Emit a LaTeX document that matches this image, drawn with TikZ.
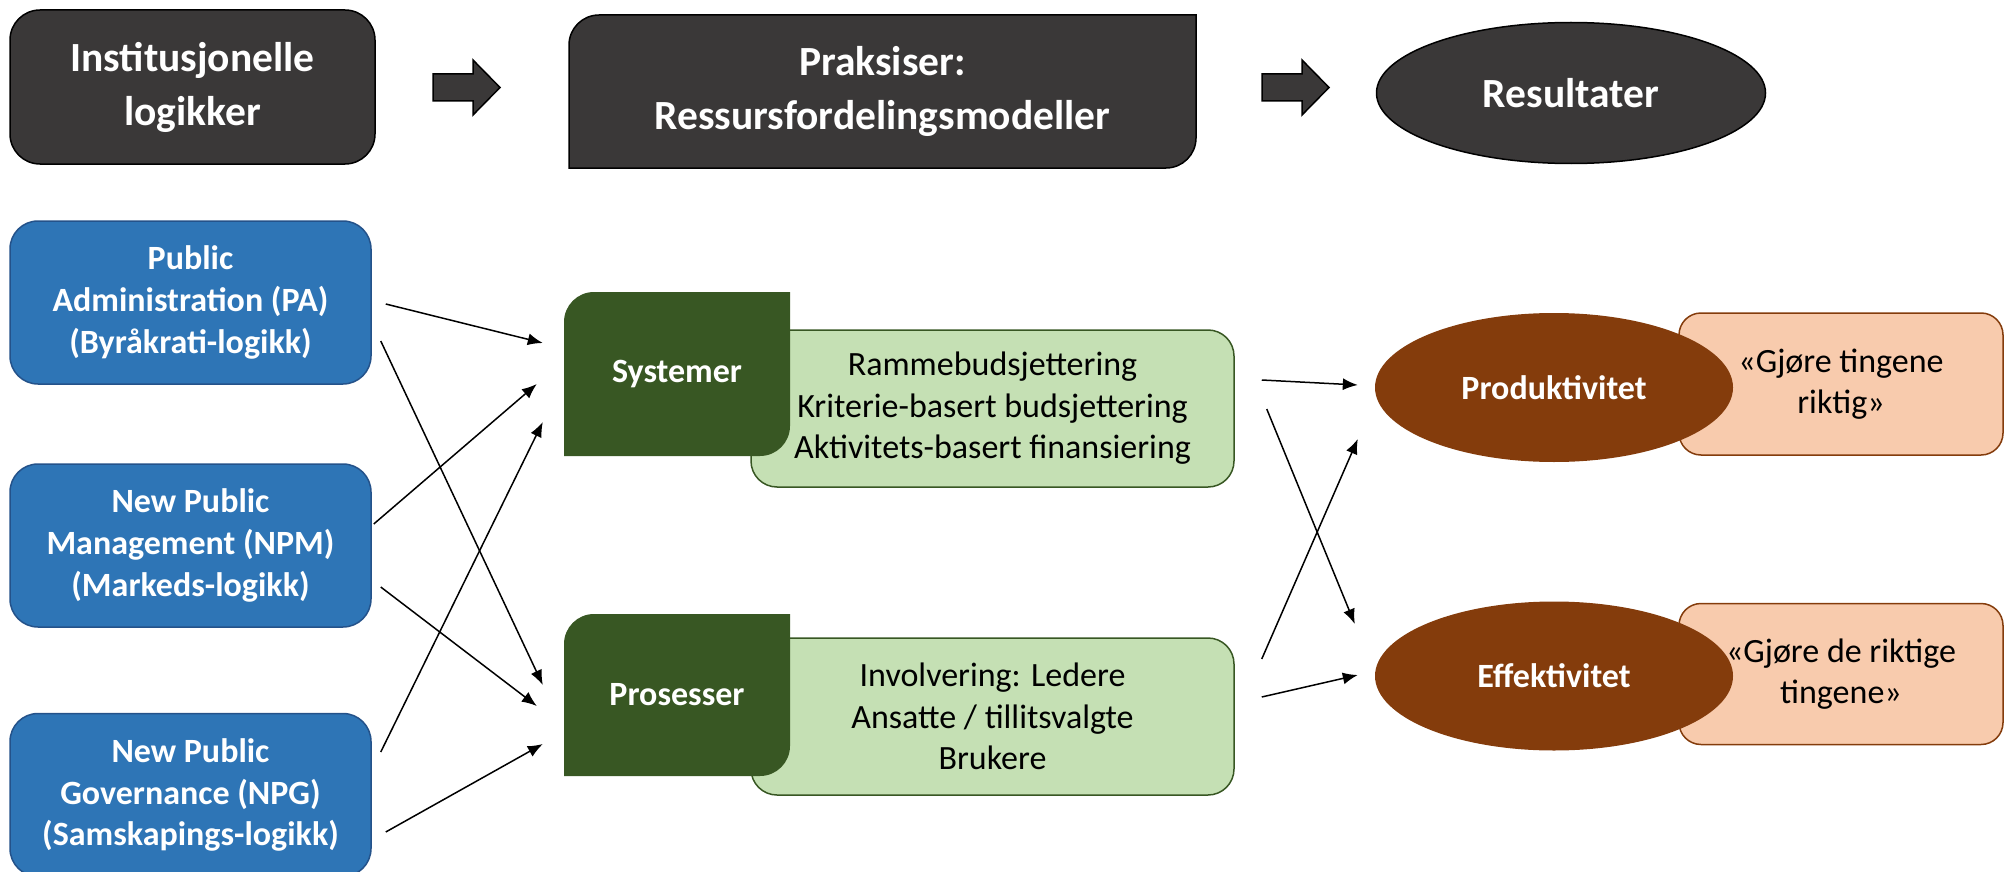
\documentclass[tikz,border=0pt]{standalone}
\usepackage{fontspec}
\setmainfont{Carlito}
\usetikzlibrary{arrows.meta,calc,shapes.geometric}

\definecolor{boxgray}{RGB}{58,56,56}
\definecolor{logicblue}{RGB}{46,117,182}
\definecolor{logicline}{RGB}{36,82,138}
\definecolor{sysgreen}{RGB}{56,87,35}
\definecolor{listgreen}{RGB}{197,224,180}
\definecolor{outbrown}{RGB}{132,60,12}
\definecolor{quotepeach}{RGB}{248,203,173}

\tikzset{
  head/.style={fill=boxgray, draw=black, line width=1.5pt, text=white, inner sep=0pt,
    align=center, font=\fontsize{41.5}{54}\selectfont\bfseries},
  logic/.style={fill=logicblue, draw=logicline, line width=1.5pt, rounded corners=28pt,
    text=white, inner sep=0pt, align=center, minimum width=361pt, minimum height=163pt,
    font=\fontsize{34}{41.6}\selectfont\bfseries},
  practice/.style={fill=sysgreen, text=white, inner sep=0pt,
    font=\fontsize{34}{41.6}\selectfont\bfseries},
  practicelist/.style={fill=listgreen, draw=sysgreen, line width=1.5pt, rounded corners=26pt,
    inner sep=0pt, align=center, minimum width=483pt, minimum height=157pt,
    font=\fontsize{34}{41.6}\selectfont},
  outcome/.style={ellipse, fill=outbrown, text=white, inner sep=0pt,
    minimum width=358pt, minimum height=149pt, font=\fontsize{34}{41.6}\selectfont\bfseries},
  quotebox/.style={fill=quotepeach, draw=outbrown, line width=1.5pt, rounded corners=22pt,
    inner sep=0pt, align=center, minimum width=324pt,
    font=\fontsize{34}{41}\selectfont},
  link/.style={line width=1.5pt, -{Latex[length=15pt,width=12pt]}},
  blockarrow/.style={fill=boxgray, draw=black, line width=1.5pt},
}

% box with rounded top-left and bottom-right corners, text node on top
\newcommand{\diagnode}[7]{%
  \fill[#1] (#3,#6) -- (#3,#4+30) arc[start angle=180,end angle=270,radius=30]
    -- (#5,#4) -- (#5,#6-30) arc[start angle=0,end angle=90,radius=30] -- cycle;
  \node[#1, fill=none, draw=none, minimum width=#5-#3, minimum height=#6-#4]
    (#2) at ({(#3+#5)/2},{(#4+#6)/2}) {#7};}

\begin{document}
\begin{tikzpicture}[x=1pt,y=-1pt]
  \useasboundingbox (0,0) rectangle (2005,872);

  % top row
  \node[head, rounded corners=30pt, minimum width=365pt, minimum height=154pt]
    (inst) at (192.5,87) {Institusjonelle\\logikker};
  \diagnode{head}{praksis}{569}{15}{1196}{168}{Praksiser:\\Ressursfordelingsmodeller}
  \node[head, ellipse, inner sep=0pt, minimum width=389pt, minimum height=141pt]
    (result) at (1571,93) {Resultater};
  \foreach \ax in {433,1262}
    \draw[blockarrow] (\ax,74) -- ++(40,0) -- ++(0,-14) -- ++(27,27.5) -- ++(-27,27.5)
      -- ++(0,-14) -- ++(-40,0) -- cycle;

  % logics
  \node[logic] (pa) at (190.5,302.5) {Public\\Administration (PA)\\(Byråkrati-logikk)};
  \node[logic] (npm) at (190.5,545.5) {New Public\\Management (NPM)\\(Markeds-logikk)};
  \node[logic] (npg) at (190.5,795) {New Public\\Governance (NPG)\\(Samskapings-logikk)};

  % practices
  \node[practicelist] (syslist) at (992.5,408.5)
    {Rammebudsjettering\\Kriterie-basert budsjettering\\Aktivitets-basert finansiering};
  \diagnode{practice}{sys}{564}{292}{790}{456}{Systemer}
  \node[practicelist] (proslist) at (992.5,716.5)
    {Involvering: Ledere\\Ansatte / tillitsvalgte\\Brukere};
  \diagnode{practice}{pros}{564}{614}{790}{776}{Prosesser}

  % outcomes
  \node[quotebox, minimum height=142pt] (prodq) at (1841,384) {«Gjøre tingene\\riktig»};
  \node[outcome] (prod) at (1554,387.5) {Produktivitet};
  \node[quotebox, minimum height=141pt] (effq) at (1841,674) {«Gjøre de riktige\\tingene»};
  \node[outcome] (eff) at (1554,676) {Effektivitet};

  % logics -> practices
  \draw[link] ($(pa.east)+(14,1.5)$) -- ($(sys.west)+(-21,-31)$);
  \draw[link] ($(pa.east)+(9,38.5)$) -- ($(pros.west)+(-21,-10)$);
  \draw[link] ($(npm.east)+(2,-21.5)$) -- ($(sys.west)+(-27,10)$);
  \draw[link] ($(npm.east)+(9,41.5)$) -- ($(pros.west)+(-27,11)$);
  \draw[link] ($(npg.east)+(9,-43)$) -- ($(sys.west)+(-21,48)$);
  \draw[link] ($(npg.east)+(14,37)$) -- ($(pros.west)+(-21,49)$);

  % practices -> outcomes
  \draw[link] ($(syslist.east)+(27,-28.5)$) -- ($(prod.west)+(-17,-2.5)$);
  \draw[link] ($(syslist.east)+(32,0.5)$) -- ($(eff.west)+(-20,-52)$);
  \draw[link] ($(proslist.east)+(27,-57.5)$) -- ($(prod.west)+(-17,51.5)$);
  \draw[link] ($(proslist.east)+(27,-19.5)$) -- ($(eff.west)+(-17,-1)$);
\end{tikzpicture}
\end{document}
